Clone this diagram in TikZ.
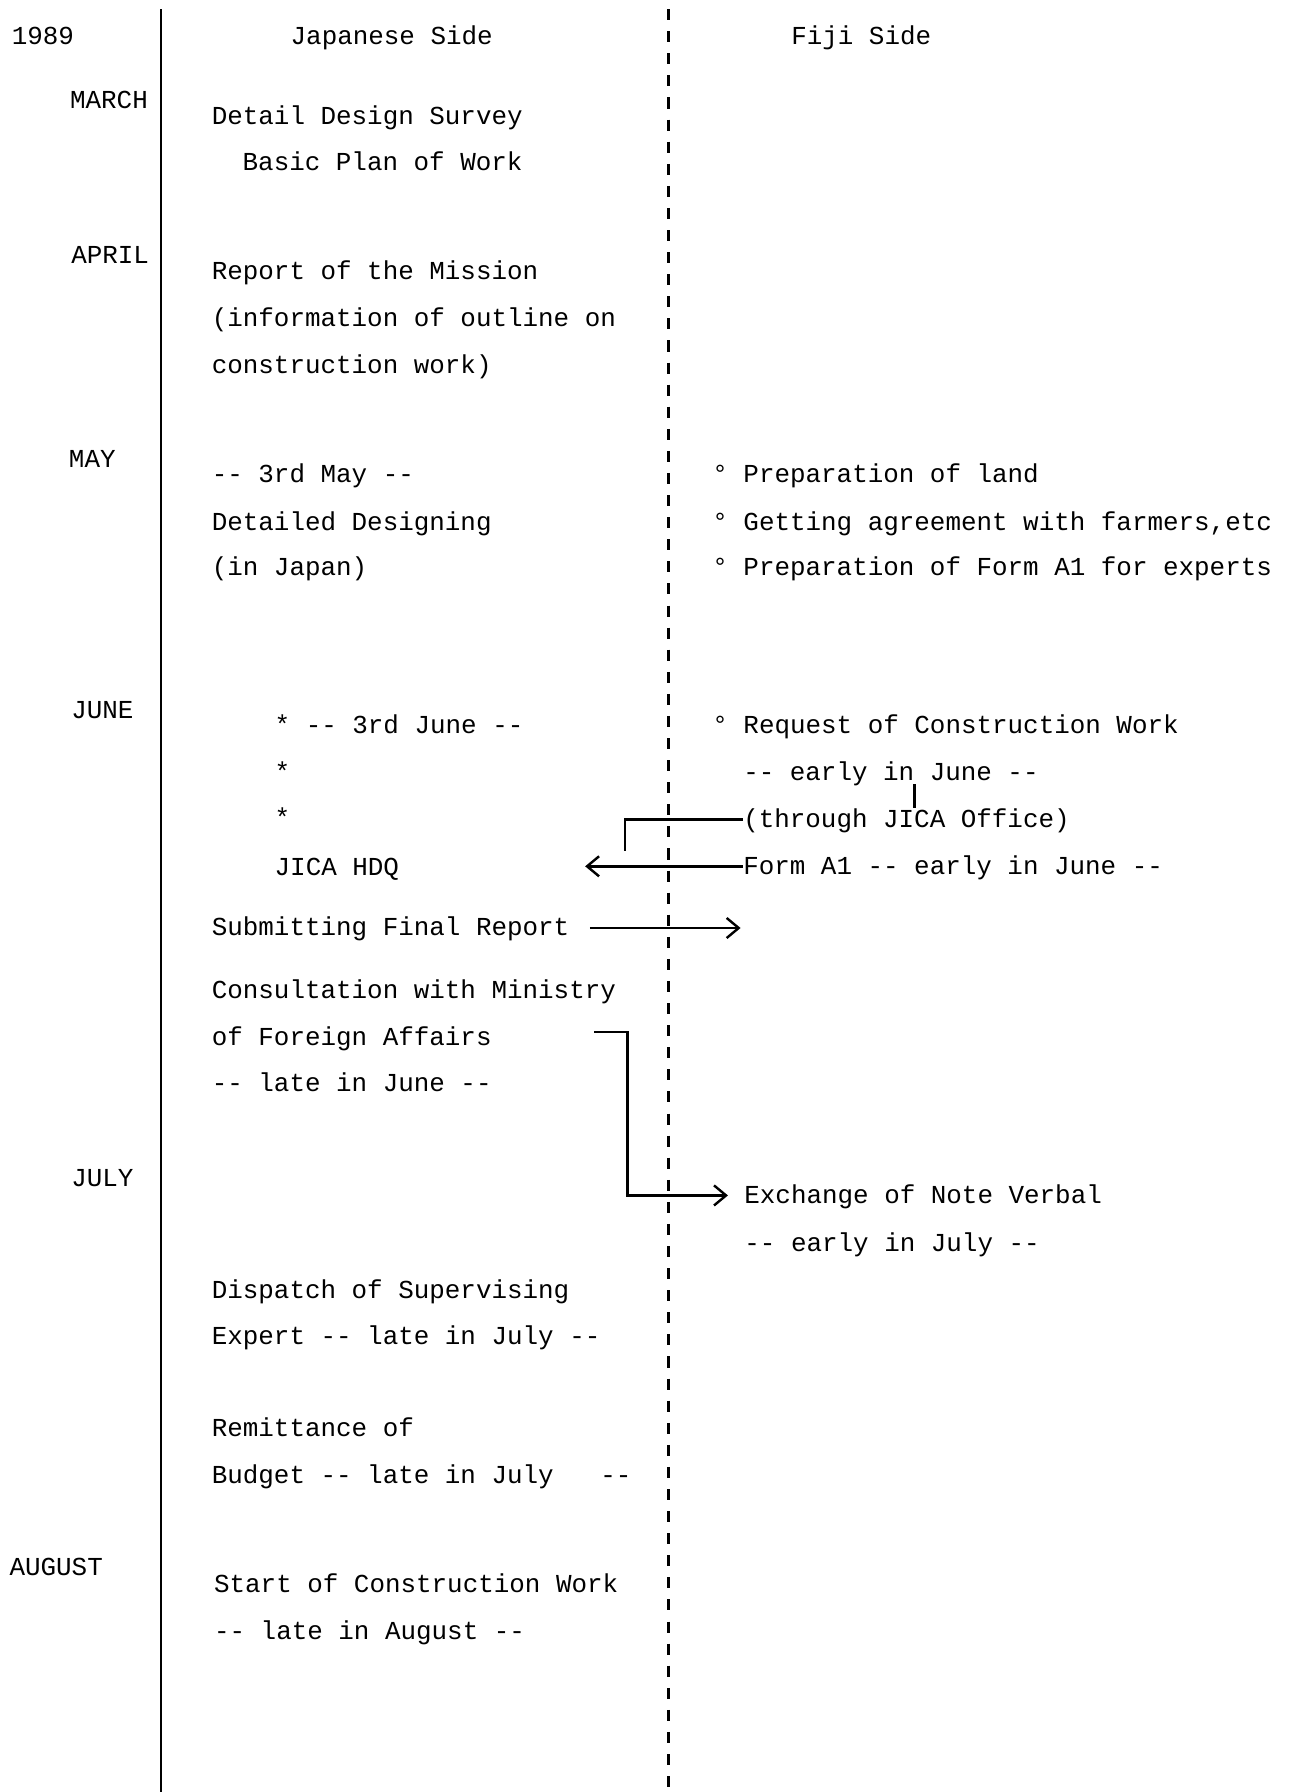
\documentclass[tikz,border=0pt]{standalone}
\usepackage{fontspec}
\setmonofont{Liberation Mono}
\usetikzlibrary{arrows.meta}
\begin{document}
\begin{tikzpicture}[x=0.02cm,y=-0.02cm,
  txt/.style={anchor=west,inner sep=0pt,font=\ttfamily\fontsize{12.9}{15}\selectfont,text height=2.1ex,text depth=0.3ex},
  rule/.style={line width=1.1pt},
  link/.style={line width=1.2pt,-{Straight Barb[length=6pt,width=10pt]}}]
\useasboundingbox (0,0) rectangle (1127,1568);
\draw[rule] (141,8) -- (141,1568);
\draw[rule,dash pattern=on 5.5pt off 5.5pt] (585,8) -- (585,1568);
\node[txt] (year) at (10,32) {1989};
\node[txt] (hdr-jp) at (254,32) {Japanese Side};
\node[txt] (hdr-fj) at (692,32) {Fiji Side};
\foreach \x/\y/\mon in {61/88/MARCH,62/224/APRIL,60/402/MAY,62/622/JUNE,62/1031/JULY,8/1372/AUGUST}
  \node[txt] (m-\mon) at (\x,\y) {\mon};
\node[txt] (survey) at (185,102) {Detail Design Survey};
\node[txt] (basic) at (212,142) {Basic Plan of Work};
\node[txt] (report1) at (185,238) {Report of the Mission};
\node[txt] (report2) at (185,279) {(information of outline on};
\node[txt] (report3) at (185,320) {construction work)};
\node[txt] (may1) at (185,415) {-- 3rd May --};
\node[txt] (may2) at (185,457) {Detailed Designing};
\node[txt] (may3) at (185,497) {(in Japan)};
\node[txt] (star1) at (240,635) {* -- 3rd June --};
\node[txt] (star2) at (240,676) {*};
\node[txt] (star3) at (240,716) {*};
\node[txt] (hdq) at (240,759) {JICA HDQ};
\node[txt] (submit) at (185,812) {Submitting Final Report};
\node[txt] (cons1) at (185,867) {Consultation with Ministry};
\node[txt] (cons2) at (185,908) {of Foreign Affairs};
\node[txt] (cons3) at (185,948) {-- late in June --};
\node[txt] (disp1) at (185,1129) {Dispatch of Supervising};
\node[txt] (disp2) at (185,1170) {Expert -- late in July --};
\node[txt] (remit1) at (185,1250) {Remittance of};
\node[txt] (remit2) at (185,1291) {Budget -- late in July~~~--};
\node[txt] (start1) at (187,1387) {Start of Construction Work};
\node[txt] (start2) at (187,1428) {-- late in August --};
\node[txt] (land) at (623,415) {° Preparation of land};
\node[txt] (farm) at (623,457) {° Getting agreement with farmers,etc};
\node[txt] (forma-prep) at (623,497) {° Preparation of Form A1 for experts};
\node[txt] (request) at (623,635) {° Request of Construction Work};
\node[txt] (early) at (650,676) {-- early in June --};
\node[txt] (through) at (650,717) {(through JICA Office)};
\node[txt] (forma) at (650,758) {Form A1 -- early in June --};
\node[txt] (exchange) at (651,1046) {Exchange of Note Verbal};
\node[txt] (exch2) at (651,1088) {-- early in July --};
\coordinate (brk) at (547,745);
\coordinate (hdq-in) at (512,758);
\coordinate (sub-end) at (648,812);
\coordinate (cons-a) at (520,903);
\coordinate (cons-turn) at (549,1046);
\draw[rule] (through.west) -| (brk);
\draw[line width=1.6pt] (800,686) -- (800,707);
\draw[link] (forma.west) -- (hdq-in);
\draw[link,shorten <=10pt] (submit.east) -- (sub-end);
\draw[link,shorten >=8pt] (cons-a) -| (cons-turn) -- (exchange.west);
\end{tikzpicture}
\end{document}
